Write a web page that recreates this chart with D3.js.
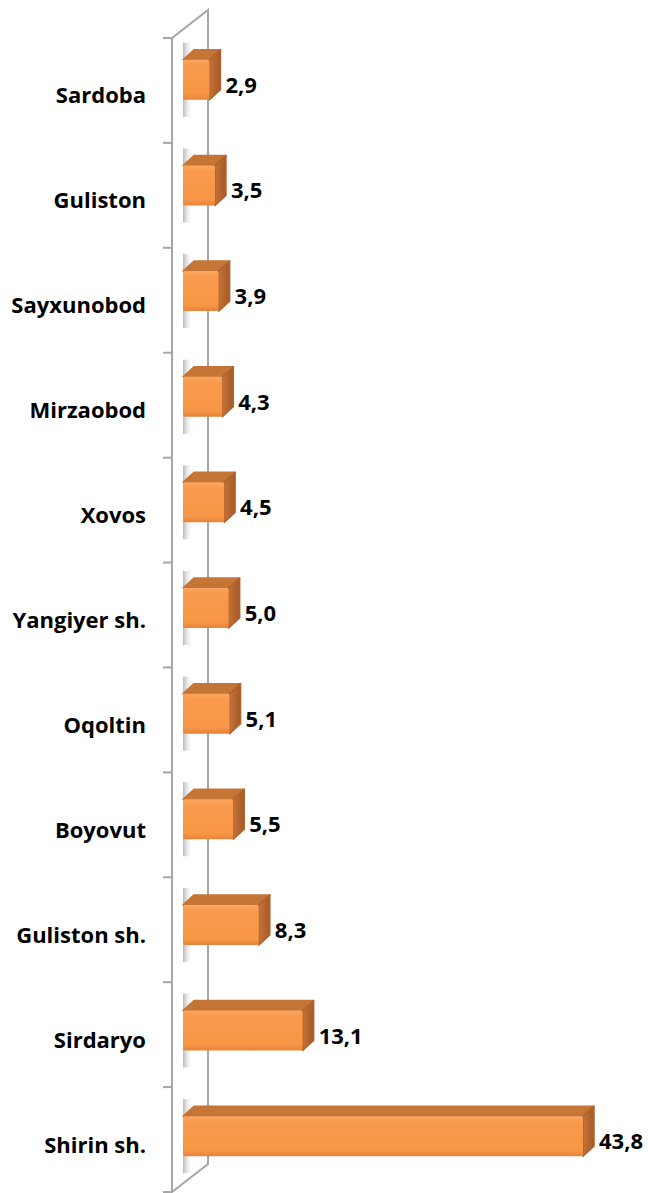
<!DOCTYPE html>
<html>
<head>
<meta charset="utf-8">
<script src="https://cdn.jsdelivr.net/npm/d3@7"></script>
<style>
  body { margin: 0; background: #fff; }
  text { font-family: "Open Sans", "DejaVu Sans", sans-serif; font-weight: bold; fill: #000; }
</style>
</head>
<body>
<div id="chart"></div>
<script>
var categories = ["Sardoba", "Guliston", "Sayxunobod", "Mirzaobod", "Xovos", "Yangiyer sh.",
  "Oqoltin", "Boyovut", "Guliston sh.", "Sirdaryo", "Shirin sh."];
var values = [2.9, 3.5, 3.9, 4.3, 4.5, 5.0, 5.1, 5.5, 8.3, 13.1, 43.8];

var svgWidth = 648;
var svgHeight = 1193;

// wall geometry (front edge / back edge of the 3d wall)
var wallFront = 172, wallBack = 208;
var wallTop = 38, wallBottom = 1192, wallShift = 28;
var depthX = 11, depthY = 10;
var barHeight = 40;

var data = categories.map(function(c, i) { return { name: c, value: values[i] }; });

var svg = d3.select("#chart")
  .append("svg")
  .attr("width", svgWidth)
  .attr("height", svgHeight);

var defs = svg.append("defs");

var frontGrad = defs.append("linearGradient").attr("id", "front")
  .attr("x1", 0).attr("y1", 0).attr("x2", 0).attr("y2", 1);
frontGrad.append("stop").attr("offset", "0%").attr("stop-color", "#fba65f");
frontGrad.append("stop").attr("offset", "15%").attr("stop-color", "#f89a4d");
frontGrad.append("stop").attr("offset", "85%").attr("stop-color", "#f79646");
frontGrad.append("stop").attr("offset", "100%").attr("stop-color", "#e5843a");

var sideGrad = defs.append("linearGradient").attr("id", "side")
  .attr("x1", 0).attr("y1", 0).attr("x2", 1).attr("y2", 0);
sideGrad.append("stop").attr("offset", "0%").attr("stop-color", "#c4733a");
sideGrad.append("stop").attr("offset", "100%").attr("stop-color", "#a65a26");

var shadowGrad = defs.append("linearGradient").attr("id", "shadow")
  .attr("x1", 0).attr("y1", 0).attr("x2", 1).attr("y2", 0);
shadowGrad.append("stop").attr("offset", "0%").attr("stop-color", "#b5b5b5").attr("stop-opacity", 0.95);
shadowGrad.append("stop").attr("offset", "100%").attr("stop-color", "#ffffff").attr("stop-opacity", 0);

// category bands (front plane) and bar bands (mid depth, slight perspective)
var yScale = d3.scaleBand()
  .domain(categories)
  .range([wallTop, wallBottom]);

var yBar = d3.scaleBand()
  .domain(categories)
  .range([27, 1189]);

var xScale = d3.scaleLinear()
  .domain([0, 43.8])
  .range([183, 583]);

// wall
var wall = svg.append("g").attr("stroke", "#a6a6a6").attr("stroke-width", 2).attr("fill", "none");
wall.append("path")
  .attr("d", "M" + wallFront + "," + wallBottom + "L" + wallFront + "," + wallTop +
    "L" + wallBack + "," + (wallTop - wallShift) + "L" + wallBack + "," + (wallBottom - wallShift) + "Z");

// tick marks on the category axis
var tickPos = categories.map(function(c) { return yScale(c); }).concat([wallBottom]);
wall.selectAll("line.tick")
  .data(tickPos)
  .enter()
  .append("line")
  .attr("class", "tick")
  .attr("x1", wallFront - 9)
  .attr("x2", wallFront)
  .attr("y1", d => d)
  .attr("y2", d => d);

// bars
var bars = svg.append("g").selectAll("g.bar")
  .data(data)
  .enter()
  .append("g")
  .attr("class", "bar");

function barTop(d) { return yBar(d.name) + yBar.bandwidth() / 2 - barHeight / 2; }

// soft shadow on the wall
bars.append("rect")
  .attr("x", xScale(0))
  .attr("y", d => barTop(d) - 17)
  .attr("width", 10)
  .attr("height", barHeight + 34)
  .attr("fill", "url(#shadow)");

// top face
bars.append("path")
  .attr("d", function(d) {
    var x0 = xScale(0), x1 = xScale(d.value), y = barTop(d);
    return "M" + x0 + "," + y + "L" + x1 + "," + y + "L" + (x1 + depthX) + "," + (y - depthY) +
      "L" + (x0 + depthX) + "," + (y - depthY) + "Z";
  })
  .attr("fill", "#c57536")
  .attr("stroke", "#c57536")
  .attr("stroke-linejoin", "round")
  .attr("stroke-width", 1.5);

// right face
bars.append("path")
  .attr("d", function(d) {
    var x1 = xScale(d.value), y = barTop(d);
    return "M" + x1 + "," + y + "L" + (x1 + depthX) + "," + (y - depthY) +
      "L" + (x1 + depthX) + "," + (y + barHeight - depthY) + "L" + x1 + "," + (y + barHeight) + "Z";
  })
  .attr("fill", "url(#side)")
  .attr("stroke", "#b0632c")
  .attr("stroke-linejoin", "round")
  .attr("stroke-width", 1.5);

// front face
bars.append("rect")
  .attr("x", xScale(0))
  .attr("y", d => barTop(d))
  .attr("width", d => xScale(d.value) - xScale(0))
  .attr("height", barHeight)
  .attr("rx", 2)
  .attr("fill", "url(#front)");

// value labels
bars.append("text")
  .attr("x", d => xScale(d.value) + 16)
  .attr("y", d => barTop(d) + barHeight / 2 + 4)
  .attr("dominant-baseline", "central")
  .attr("font-size", "22px")
  .text(d => d.value.toFixed(1).replace(".", ","));

// category labels
svg.append("g").selectAll("text")
  .data(categories)
  .enter()
  .append("text")
  .attr("x", 146)
  .attr("y", d => yScale(d) + yScale.bandwidth() / 2 + 4)
  .attr("text-anchor", "end")
  .attr("dominant-baseline", "central")
  .attr("font-size", "22px")
  .text(d => d);
</script>
</body>
</html>
